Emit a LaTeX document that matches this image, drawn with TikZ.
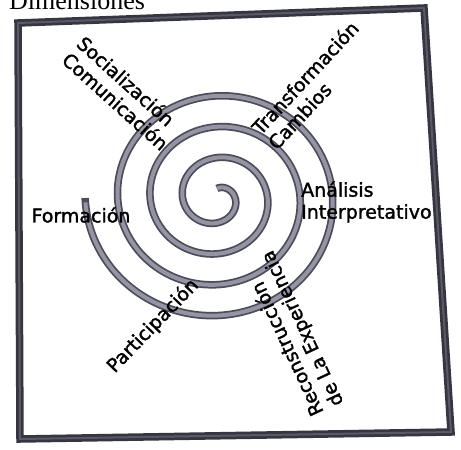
\documentclass[tikz,border=0pt]{standalone}
\usepackage{fontspec}
\setmainfont{Liberation Serif}
\newfontfamily\lblfont[FakeBold=1.6]{DejaVu Sans}
\definecolor{frameDark}{HTML}{363642}
\definecolor{frameMid}{HTML}{5A5A66}
\definecolor{spiralDark}{HTML}{4C4C5A}
\definecolor{spiralMid}{HTML}{9494A2}
\begin{document}
\begin{tikzpicture}[x=1pt,y=-1pt,
  lbl/.style={font=\lblfont\fontsize{19}{22}\selectfont, inner sep=0pt, align=left, text=black},
  titlefont/.style={font=\fontsize{26}{30}\selectfont, inner sep=0pt},
  frameouter/.style={draw=frameDark, line width=7.5pt, line join=miter},
  frameinner/.style={draw=frameMid, line width=2pt, line join=miter},
  spiralouter/.style={draw=spiralDark, line width=7.5pt, line cap=butt},
  spiralinner/.style={draw=spiralMid, line width=4pt, line cap=butt}]
\useasboundingbox (0,0) rectangle (461,450);
\clip (0,0) rectangle (461,450);
\fill[white] (0,0) rectangle (461,450);
% title (cut off at top)
\node[titlefont, anchor=base west] (title) at (9,9) {Dimensiones};
% frame
\coordinate (TL) at (18,23);
\coordinate (TR) at (424,8);
\coordinate (BR) at (451,432);
\coordinate (BL) at (20,439);
\draw[frameouter] (TL) -- (TR) -- (BR) -- (BL) -- cycle;
\draw[frameinner] (TL) -- (TR) -- (BR) -- (BL) -- cycle;
% spiral
\draw[spiralouter] plot[domain=-90:1260, samples=500, smooth, variable=\t]
  ({217+(10+(\t+90)/360*32.5)*cos(\t)}, {198+0.95*(10+(\t+90)/360*32.5)*sin(\t)});
\draw[spiralinner] plot[domain=-88:1258, samples=500, smooth, variable=\t]
  ({217+(10+(\t+90)/360*32.5)*cos(\t)}, {198+0.95*(10+(\t+90)/360*32.5)*sin(\t)});
% labels
\node[lbl, rotate=-42] (soc) at (123,93) {Socialización\\Comunicación};
\node[lbl, rotate=47] (tra) at (313,85) {Transformación\\Cambios};
\node[lbl, anchor=west] (ana) at (301,202) {Análisis\\Interpretativo};
\node[lbl] (for) at (81,215) {Formación};
\node[lbl, rotate=46] (par) at (153,326) {Participación};
\node[lbl, rotate=115] (rec) at (293,333) {Reconstrucción\\de La Experiencia};
\end{tikzpicture}
\end{document}
